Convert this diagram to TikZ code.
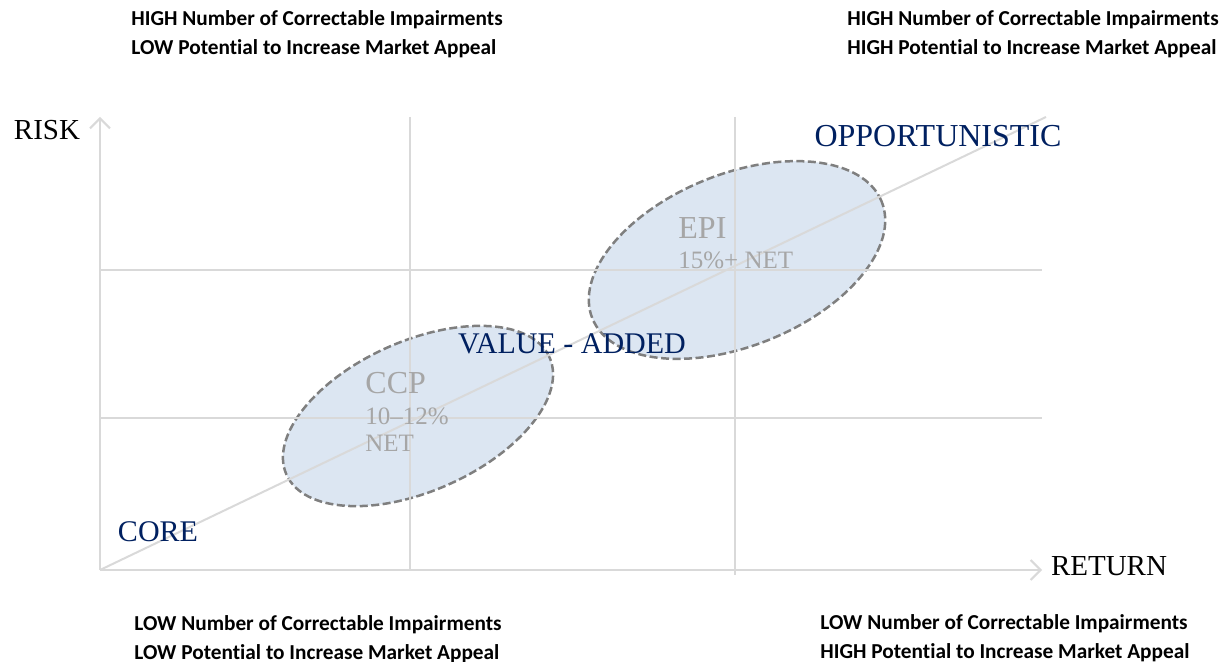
\documentclass[tikz,border=0pt]{standalone}
\usepackage{fontspec}
\setmainfont{Liberation Serif}
\newfontfamily\notefont[Ligatures=NoCommon]{Carlito}
\usetikzlibrary{arrows.meta,shapes.geometric}
\definecolor{navy}{HTML}{002060}
\definecolor{gridgray}{HTML}{D9D9D9}
\definecolor{labelgray}{HTML}{A6A6A6}
\definecolor{zonefill}{HTML}{DCE6F2}
\definecolor{zoneline}{HTML}{7F7F7F}

\tikzset{axis/.style = {draw=gridgray, line width=1pt, -{Straight Barb[length=5pt,width=10pt]}}}
\tikzset{gridline/.style = {draw=gridgray, line width=1pt}}
\tikzset{zone/.style = {ellipse, fill=zonefill, draw=zoneline, line width=1.25pt, dash pattern=on 4pt off 1.75pt, inner sep=0pt}}
\tikzset{band/.style = {text=navy, inner sep=0pt, font=\fontsize{15}{18}\selectfont}}
\tikzset{axlabel/.style = {inner sep=0pt, font=\fontsize{14.5}{17}\selectfont}}
\tikzset{zonename/.style = {text=labelgray, anchor=west, inner sep=0pt, font=\fontsize{16}{18}\selectfont}}
\tikzset{zoneret/.style = {text=labelgray, anchor=west, inner sep=0pt, font=\fontsize{12.5}{15}\selectfont}}
\tikzset{note/.style = {anchor=west, align=left, inner sep=0pt, font=\notefont\bfseries\fontsize{10.65}{14.5}\selectfont}}

\begin{document}
\begin{tikzpicture}[x=0.5pt, y=-0.5pt]
		\useasboundingbox (0,0) rectangle (1219,662);
		% Zones
		\node[zone, minimum width=144pt, minimum height=75pt, rotate=24] (ccp) at (418,416) {};
		\node[zone, minimum width=156pt, minimum height=86pt, rotate=22] (epi) at (737,260) {};
		% Grid
		\coordinate (o)    at (100,570);
		\coordinate (ytip) at (100,117);
		\coordinate (xtip) at (1042,570);
		\coordinate (dtip) at (1046,117);
		\foreach \x/\b in {410/570, 735/575}
			\draw [gridline] (\x,117) -- (\x,\b);
		\foreach \y in {270, 418}
			\draw [gridline] (100,\y) -- (1042,\y);
		\draw [gridline] (o) -- (dtip);
		% Axes
		\foreach \to in {ytip, xtip}
			\draw [axis] (o) -- (\to);
		% Labels
		\node[axlabel] (risk)   at (47,130)   {RISK};
		\node[axlabel] (return) at (1109,566) {RETURN};
		\node[band, font=\fontsize{16}{18}\selectfont] (opp) at (938,136) {OPPORTUNISTIC};
		\node[band]    (value)  at (572,344)  {VALUE - ADDED};
		\node[band]    (core)   at (158,532)  {CORE};
		\node[zonename] (ccpname) at (365,383) {CCP};
		\node[zoneret]  (ccpret)  at (365,416) {10--12\%};
		\node[zoneret]  (ccpnet)  at (365,443) {NET};
		\node[zonename] (epiname) at (678,228) {EPI};
		\node[zoneret]  (epiret)  at (678,260) {15\%+ NET};
		% Notes
		\node[note] (tl) at (131,34.5) {HIGH Number of Correctable Impairments\\LOW Potential to Increase Market Appeal};
		\node[note] (tr) at (847,34.5) {HIGH Number of Correctable Impairments\\HIGH Potential to Increase Market Appeal};
		\node[note] (bl) at (134,639) {LOW Number of Correctable Impairments\\LOW Potential to Increase Market Appeal};
		\node[note] (br) at (820,638) {LOW Number of Correctable Impairments\\HIGH Potential to Increase Market Appeal};
\end{tikzpicture}
\end{document}
